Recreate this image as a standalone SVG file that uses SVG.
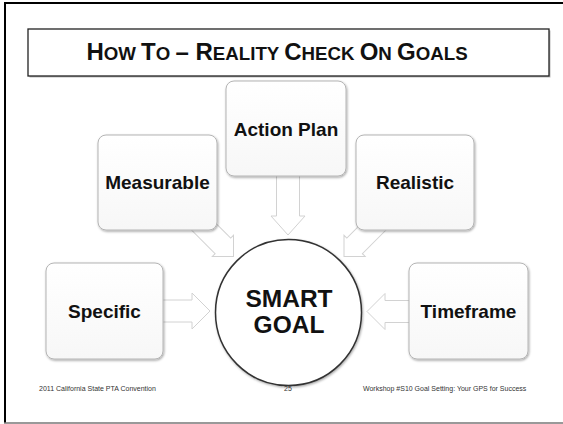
<svg xmlns="http://www.w3.org/2000/svg" width="563" height="424" viewBox="0 0 563 424">
  <defs>
    <linearGradient id="boxfill" x1="0" y1="0" x2="0" y2="1">
      <stop offset="0" stop-color="#ffffff"/>
      <stop offset="1" stop-color="#f7f7f7"/>
    </linearGradient>
    <filter id="shadow" x="-10%" y="-10%" width="130%" height="130%">
      <feDropShadow dx="0.8" dy="1.2" stdDeviation="0.9" flood-color="#000" flood-opacity="0.35"/>
    </filter>
    <style>
      .box { fill: url(#boxfill); stroke: #b4b4b4; stroke-width: 1; filter: url(#shadow); }
      .lbl { font-family: "Liberation Sans", Arial, sans-serif; font-weight: bold; font-size: 19px; fill: #111; text-anchor: middle; }
      .big { font-size: 24.5px; }
      .arrow { fill: #ffffff; stroke: #d2d2d2; stroke-width: 1; }
      .foot { font-family: "Liberation Sans", Arial, sans-serif; font-size: 7px; fill: #333; }
      .title { font-family: "Liberation Sans", Arial, sans-serif; font-weight: bold; fill: #111; text-anchor: middle; }
      .cap { font-size: 24px; }
      .sc { font-size: 18.7px; }
    </style>
  </defs>

  <rect x="0" y="0" width="563" height="424" fill="#ffffff"/>
  <!-- slide frame -->
  <line x1="5" y1="3" x2="563" y2="3" stroke="#000" stroke-width="2"/>
  <line x1="5" y1="2" x2="5" y2="423" stroke="#000" stroke-width="2"/>
  <line x1="4" y1="423" x2="563" y2="423" stroke="#777" stroke-width="1.5"/>

  <!-- title -->
  <g id="title">
    <rect x="29.5" y="30.5" width="521" height="47" fill="#bbb" stroke="none"/>
    <rect x="28" y="29" width="521" height="47" fill="#fff" stroke="#222" stroke-width="1.3"/>
    <text class="title" x="277" y="60"><tspan class="cap">H</tspan><tspan class="sc">OW </tspan><tspan class="cap">T</tspan><tspan class="sc">O </tspan><tspan class="cap">– R</tspan><tspan class="sc">EALITY </tspan><tspan class="cap">C</tspan><tspan class="sc">HECK </tspan><tspan class="cap">O</tspan><tspan class="sc">N </tspan><tspan class="cap">G</tspan><tspan class="sc">OALS</tspan></text>
  </g>

  <!-- connectors -->
  <g id="connectors">
    <polygon class="arrow" transform="translate(210,311)" points="0,0 -18,-18 -18,-11 -50,-11 -50,11 -18,11 -18,18"/>
    <polygon class="arrow" transform="translate(367,311.5) rotate(180)" points="0,0 -18,-18 -18,-11 -50,-11 -50,11 -18,11 -18,18"/>
    <polygon class="arrow" transform="translate(288,235) rotate(90)" points="0,0 -19,-17 -19,-11.5 -65,-11.5 -65,11.5 -19,11.5 -19,17"/>
    <polygon class="arrow" transform="translate(233.5,256.5) rotate(45)" points="0,0 -15,-15 -15,-11 -60,-11 -60,11 -15,11 -15,15"/>
    <polygon class="arrow" transform="translate(344,256.5) rotate(135)" points="0,0 -15,-15 -15,-11 -60,-11 -60,11 -15,11 -15,15"/>
  </g>

  <g id="measurable">
    <rect class="box" x="98" y="135" width="119" height="95" rx="8"/>
    <text class="lbl" x="157.5" y="189">Measurable</text>
  </g>
  <g id="action-plan">
    <rect class="box" x="226" y="81" width="120" height="95" rx="8"/>
    <text class="lbl" x="286" y="135.5">Action Plan</text>
  </g>
  <g id="realistic">
    <rect class="box" x="356" y="135" width="118" height="95" rx="8"/>
    <text class="lbl" x="415" y="189">Realistic</text>
  </g>
  <g id="specific">
    <rect class="box" x="46" y="263" width="117" height="96" rx="8"/>
    <text class="lbl" x="104.5" y="317.5">Specific</text>
  </g>
  <g id="timeframe">
    <rect class="box" x="409" y="263" width="119" height="96" rx="8"/>
    <text class="lbl" x="468.5" y="318">Timeframe</text>
  </g>

  <g id="smart-goal">
    <circle cx="288.5" cy="312.5" r="73" fill="#ffffff" stroke="#333" stroke-width="1.5" filter="url(#shadow)"/>
    <text class="lbl big" x="289" y="307">SMART</text>
    <text class="lbl big" x="289" y="333">GOAL</text>
  </g>

  <!-- footer -->
  <g id="footer">
    <text class="foot" x="39" y="391">2011 California State PTA Convention</text>
    <text class="foot" x="288" y="391" text-anchor="middle">25</text>
    <text class="foot" x="363" y="391">Workshop #S10 Goal Setting: Your GPS for Success</text>
  </g>
</svg>
